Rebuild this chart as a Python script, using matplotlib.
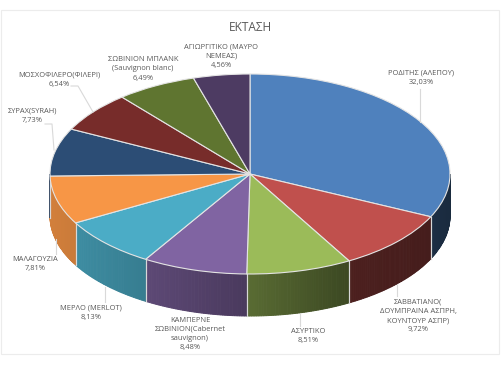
import numpy as np
import matplotlib
matplotlib.use("Agg")
import matplotlib.pyplot as plt
from matplotlib.patches import Rectangle

plt.rcParams['font.family'] = ['Open Sans', 'DejaVu Sans']

title = "ΕΚΤΑΣΗ"
categories = ["ΡΟΔΙΤΗΣ (ΑΛΕΠΟΥ)", "ΣΑΒΒΑΤΙΑΝΟ(\nΔΟΥΜΠΡΑΙΝΑ ΑΣΠΡΗ,\nΚΟΥΝΤΟΥΡ ΑΣΠΡ)", "ΑΣΥΡΤΙΚΟ",
              "ΚΑΜΠΕΡΝΕ\nΣΩΒΙΝΙΟΝ(Cabernet\nsauvignon)", "ΜΕΡΛΟ (MERLOT)", "ΜΑΛΑΓΟΥΖΙΑ",
              "ΣΥΡΑΧ(SYRAH)", "ΜΟΣΧΟΦΙΛΕΡΟ(ΦΙΛΕΡΙ)", "ΣΩΒΙΝΙΟΝ ΜΠΛΑΝΚ\n(Sauvignon blanc)",
              "ΑΓΙΩΡΓΙΤΙΚΟ (ΜΑΥΡΟ\nΝΕΜΕΑΣ)"]
values = [32.03, 9.72, 8.51, 8.48, 8.13, 7.81, 7.73, 6.54, 6.49, 4.56]
pct_labels = ["32,03%", "9,72%", "8,51%", "8,48%", "8,13%", "7,81%", "7,73%", "6,54%", "6,49%", "4,56%"]
colors = ["#4f81bd", "#c0504d", "#9bbb59", "#8064a2", "#4bacc6", "#f79646",
          "#2c4d75", "#772c2a", "#5f7530", "#4d3b62"]
label_xy = [(421, 78), (418, 316), (308, 336), (190, 334), (91, 312.5), (35, 264),
            (32, 116), (59, 80), (143, 69), (221, 56)]
leaders = [[(420, 89), (420, 122)], [(397, 284), (397, 296)], [(300, 314), (300, 326)], None,
           [(105, 287), (105, 302)], [(56, 239), (56, 254)],
           [(45, 124), (52, 124), (54, 150)], [(71, 86), (78, 86), (93, 112)], None, None]

W, H = 504, 367
CX, CY, RX, RY, DEPTH = 250, 174, 200, 100, 42

fig = plt.figure(figsize=(W / 100, H / 100), dpi=100, facecolor="white")
fig.add_artist(Rectangle((1 / W, 1 - 354 / H), 498 / W, 344 / H, transform=fig.transFigure,
                         fill=False, ec="#ececec", lw=0.8))
ax = fig.add_axes([0, 0, 1, 1])

depth = DEPTH / RY
shade_x = [-1, -0.5, 0, 0.45, 0.9, 1]
shade_f = [0.85, 0.72, 0.57, 0.40, 0.36, 0.33]

# side walls, drawn from the same shares as the pie
edges = 90 - np.cumsum([0] + values) * 3.6
for v0, v1, col in zip(edges[:-1], edges[1:], colors):
    hi, lo = min(v0, 0), max(v1, -180)
    if hi <= lo:
        continue
    base = np.array(matplotlib.colors.to_rgb(col))
    grid = np.linspace(hi, lo, max(2, int((hi - lo) * 1.5)))
    for g0, g1 in zip(grid[:-1], grid[1:]):
        t = np.radians(np.linspace(g0, g1, 3))
        x, y = np.cos(t), np.sin(t)
        c = base * np.interp(x.mean(), shade_x, shade_f)
        ax.fill(np.r_[x, x[::-1]], np.r_[y, y[::-1] - depth], facecolor=c, edgecolor=c, lw=0.7, zorder=1)
    for g in (hi, lo):
        t = np.radians(g)
        if -179 < g < -1:
            ax.plot([np.cos(t)] * 2, [np.sin(t), np.sin(t) - depth], color="#d8d8d8", lw=0.8, zorder=2)

ax.pie(values, colors=colors, startangle=90, counterclock=False, radius=1,
       wedgeprops=dict(edgecolor="#e4e4e4", linewidth=0.8, zorder=3))
ax.set_aspect("auto")
ax.set_xlim((0 - CX) / RX, (W - CX) / RX)
ax.set_ylim((CY - H) / RY, CY / RY)
ax.axis("off")

for pts in leaders:
    if pts:
        xs, ys = zip(*pts)
        ax.plot((np.array(xs) - CX) / RX, (CY - np.array(ys)) / RY, color="#d9d9d9", lw=0.8, zorder=4)

for name, pct, (x, y) in zip(categories, pct_labels, label_xy):
    fig.text(x / W, 1 - y / H, f"{name}\n{pct}", ha="center", va="center", fontsize=5.4,
             color="#595959", linespacing=1.45)
fig.text(250 / W, 1 - 27.5 / H, title, ha="center", va="center", fontsize=8.6, color="#595959")

fig.savefig("out.png", dpi=100, facecolor="white")
